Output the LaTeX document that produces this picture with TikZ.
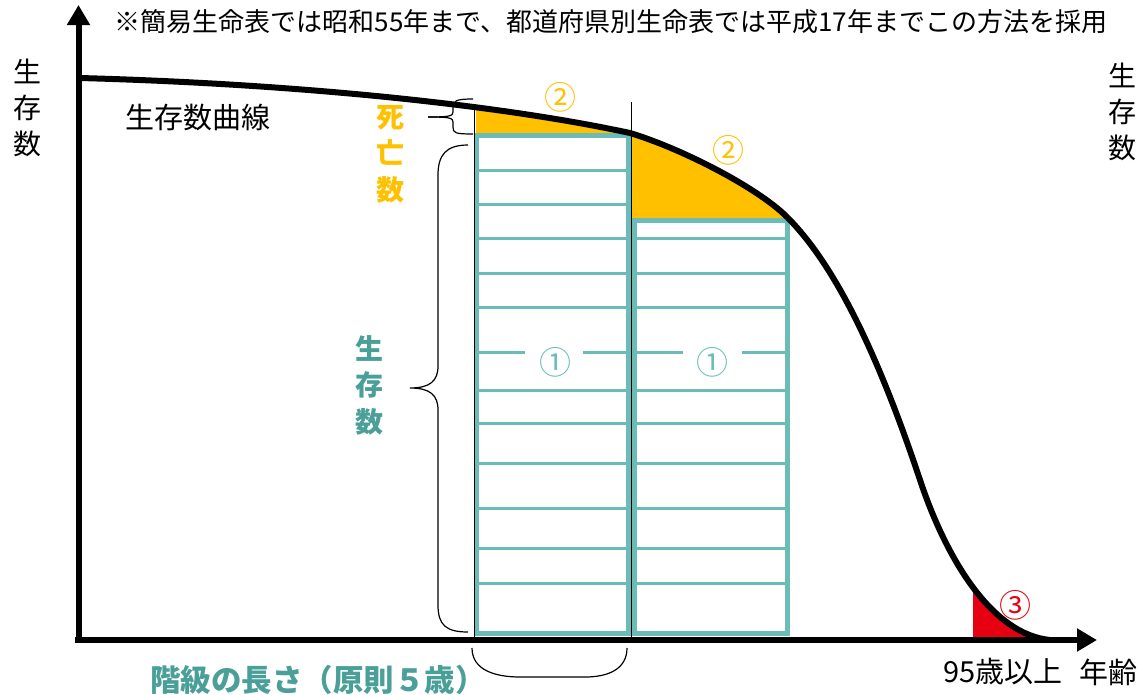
\documentclass[tikz,border=0pt]{standalone}
\usepackage{fontspec}
\setmainfont{Noto Sans CJK JP}
\usetikzlibrary{arrows.meta}
\definecolor{boxteal}{HTML}{6BBCB8}
\definecolor{labelteal}{HTML}{4A9F98}
\definecolor{deathorange}{HTML}{FFC000}
\definecolor{tailred}{HTML}{E60012}
\newcommand\survcurve{(80,78) .. controls (300,84) and (500,105) .. (630,133) .. controls (680,148) and (757,187) .. (787,217) .. controls (832,262) and (875,345) .. (920,480) .. controls (945,555) and (990,634) .. (1050,640)}

\begin{document}
\begin{tikzpicture}[x=1pt,y=-1pt,
  box/.style={boxteal, line width=5pt},
  rung/.style={boxteal, line width=3pt},
  brace/.style={black, line width=1.2pt},
  numlabel/.style={inner sep=0, font=\fontsize{32}{36}\selectfont},
  vlabel/.style={align=center, inner sep=0, font=\fontsize{28}{36}\selectfont},
  blabel/.style={align=center, inner sep=0, font=\bfseries\fontsize{28}{36.5}\selectfont}]
\useasboundingbox (0,0) rectangle (1138,694);
\begin{scope}
 \clip \survcurve -- (1138,640) -- (1138,700) -- (0,700) -- (0,78) -- cycle;
 \fill[deathorange] (476,90) rectangle (629,135);
 \fill[deathorange] (632,120) rectangle (787,220);
 \fill[tailred] (973,590) rectangle (1045,638);
\end{scope}
\foreach \y in {170, 204} {
 \draw[rung] (476,\y) --++(152,0);
}
\foreach \y in {238, 273, 307, 390, 423, 463, 508, 548, 583} {
 \draw[rung] (476,\y) --++(152,0);
 \draw[rung] (634,\y) --++(153,0);
}
\draw[rung] (476,352) -- (525,352) (583,352) -- (628,352);
\draw[rung] (634,352) -- (683,352) (742,352) -- (787,352);
\draw[box] (476,135) rectangle (628,633);
\draw[box] (634,220) rectangle (787,633);
\draw[black, line width=1pt] (474,106) -- (474,640);
\draw[black, line width=1pt] (631,102) -- (631,640);
\draw[black, line width=6pt] \survcurve;
\draw[black, line width=6pt, ->, >={Triangle[length=20pt,width=22pt]}] (75,640) -- (1097,640);
\draw[black, line width=6pt, ->, >={Triangle[length=20pt,width=22pt]}] (78.5,643) -- (78.5,5);
\draw[brace] (473,99) .. controls (455,99) and (453,101) .. (453,108) -- (453,112) .. controls (453,116) and (450,117) .. (428,117);
\draw[brace] (428,117) .. controls (450,117) and (453,118) .. (453,122) -- (453,127) .. controls (453,133) and (455,134) .. (473,134);
\draw[brace] (468,145) .. controls (446,145) and (438,155) .. (438,175) -- (438,366) .. controls (438,381) and (430,388) .. (410,388) .. controls (430,388) and (438,395) .. (438,410) -- (438,605) .. controls (438,625) and (446,632) .. (468,632);
\draw[brace] (472,648) .. controls (472,670) and (495,677) .. (520,677) -- (585,677) .. controls (610,677) and (627,668) .. (627,648);
\node[inner sep=0, font=\fontsize{26}{30}\selectfont] (note) at (611,22) {※簡易生命表では昭和55年まで、都道府県別生命表では平成17年までこの方法を採用};
\node[vlabel] (yleft) at (27,108) {生\\存\\数};
\node[vlabel] (yright) at (1122,112) {生\\存\\数};
\node[inner sep=0, font=\fontsize{29}{34}\selectfont] (curvename) at (198,118) {生存数曲線};
\node[blabel, deathorange] (deaths) at (390,154) {死\\亡\\数};
\node[blabel, labelteal] (survivors) at (369,385) {生\\存\\数};
\node[numlabel, deathorange] (twoa) at (560,97) {②};
\node[numlabel, deathorange] (twob) at (728,150) {②};
\node[numlabel, boxteal] (onea) at (555,362) {①};
\node[numlabel, boxteal] (oneb) at (712,362) {①};
\node[numlabel, tailred] (three) at (1015,605) {③};
\node[inner sep=0, font=\bfseries\fontsize{30.5}{36}\selectfont, labelteal] (width) at (318,680) {階級の長さ（原則５歳）};
\node[inner sep=0, font=\fontsize{29}{34}\selectfont] (lastage) at (1003,672) {95歳以上};
\node[inner sep=0, font=\fontsize{29}{34}\selectfont] (agelabel) at (1108,672) {年齢};
\end{tikzpicture}
\end{document}
